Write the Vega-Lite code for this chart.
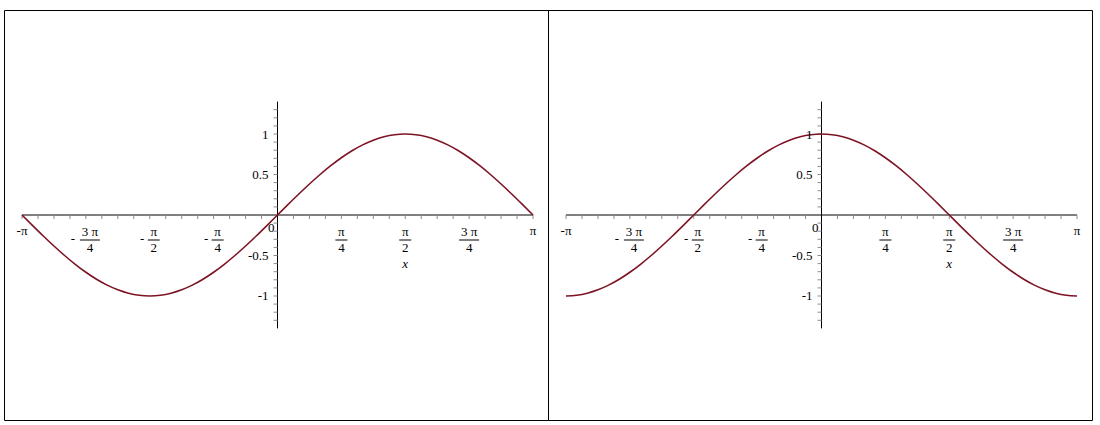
{
  "$schema": "https://vega.github.io/schema/vega-lite/v6.json",
  "padding": {"left": 3, "top": 9, "right": 0, "bottom": 0},
  "background": "white",
  "datasets": {
    "curve": [
      {"x": -3.1416, "s": 0, "c": -1},
      {"x": -3.0107, "s": -0.1305, "c": -0.9914},
      {"x": -2.8798, "s": -0.2588, "c": -0.9659},
      {"x": -2.7489, "s": -0.3827, "c": -0.9239},
      {"x": -2.618, "s": -0.5, "c": -0.866},
      {"x": -2.4871, "s": -0.6088, "c": -0.7934},
      {"x": -2.3562, "s": -0.7071, "c": -0.7071},
      {"x": -2.2253, "s": -0.7934, "c": -0.6088},
      {"x": -2.0944, "s": -0.866, "c": -0.5},
      {"x": -1.9635, "s": -0.9239, "c": -0.3827},
      {"x": -1.8326, "s": -0.9659, "c": -0.2588},
      {"x": -1.7017, "s": -0.9914, "c": -0.1305},
      {"x": -1.5708, "s": -1, "c": 0},
      {"x": -1.4399, "s": -0.9914, "c": 0.1305},
      {"x": -1.309, "s": -0.9659, "c": 0.2588},
      {"x": -1.1781, "s": -0.9239, "c": 0.3827},
      {"x": -1.0472, "s": -0.866, "c": 0.5},
      {"x": -0.9163, "s": -0.7934, "c": 0.6088},
      {"x": -0.7854, "s": -0.7071, "c": 0.7071},
      {"x": -0.6545, "s": -0.6088, "c": 0.7934},
      {"x": -0.5236, "s": -0.5, "c": 0.866},
      {"x": -0.3927, "s": -0.3827, "c": 0.9239},
      {"x": -0.2618, "s": -0.2588, "c": 0.9659},
      {"x": -0.1309, "s": -0.1305, "c": 0.9914},
      {"x": 0, "s": 0, "c": 1},
      {"x": 0.1309, "s": 0.1305, "c": 0.9914},
      {"x": 0.2618, "s": 0.2588, "c": 0.9659},
      {"x": 0.3927, "s": 0.3827, "c": 0.9239},
      {"x": 0.5236, "s": 0.5, "c": 0.866},
      {"x": 0.6545, "s": 0.6088, "c": 0.7934},
      {"x": 0.7854, "s": 0.7071, "c": 0.7071},
      {"x": 0.9163, "s": 0.7934, "c": 0.6088},
      {"x": 1.0472, "s": 0.866, "c": 0.5},
      {"x": 1.1781, "s": 0.9239, "c": 0.3827},
      {"x": 1.309, "s": 0.9659, "c": 0.2588},
      {"x": 1.4399, "s": 0.9914, "c": 0.1305},
      {"x": 1.5708, "s": 1, "c": 0},
      {"x": 1.7017, "s": 0.9914, "c": -0.1305},
      {"x": 1.8326, "s": 0.9659, "c": -0.2588},
      {"x": 1.9635, "s": 0.9239, "c": -0.3827},
      {"x": 2.0944, "s": 0.866, "c": -0.5},
      {"x": 2.2253, "s": 0.7934, "c": -0.6088},
      {"x": 2.3562, "s": 0.7071, "c": -0.7071},
      {"x": 2.4871, "s": 0.6088, "c": -0.7934},
      {"x": 2.618, "s": 0.5, "c": -0.866},
      {"x": 2.7489, "s": 0.3827, "c": -0.9239},
      {"x": 2.8798, "s": 0.2588, "c": -0.9659},
      {"x": 3.0107, "s": 0.1305, "c": -0.9914},
      {"x": 3.1416, "s": 0, "c": -1}
    ],
    "axes": [{"a": -3.1416, "b": 3.1416, "lo": -1.4, "hi": 1.4}],
    "xt": [
      {"v": -3.1416}, {"v": -2.9452}, {"v": -2.7489}, {"v": -2.5525}, {"v": -2.3562},
      {"v": -2.1598}, {"v": -1.9635}, {"v": -1.7671}, {"v": -1.5708}, {"v": -1.3744},
      {"v": -1.1781}, {"v": -0.9817}, {"v": -0.7854}, {"v": -0.589}, {"v": -0.3927},
      {"v": -0.1963}, {"v": 0.1963}, {"v": 0.3927}, {"v": 0.589}, {"v": 0.7854},
      {"v": 0.9817}, {"v": 1.1781}, {"v": 1.3744}, {"v": 1.5708}, {"v": 1.7671},
      {"v": 1.9635}, {"v": 2.1598}, {"v": 2.3562}, {"v": 2.5525}, {"v": 2.7489},
      {"v": 2.9452}, {"v": 3.1416}
    ],
    "yt": [
      {"v": -1.3}, {"v": -1.2}, {"v": -1.1}, {"v": -1.0}, {"v": -0.9}, {"v": -0.8},
      {"v": -0.7}, {"v": -0.6}, {"v": -0.5}, {"v": -0.4}, {"v": -0.3}, {"v": -0.2},
      {"v": -0.1}, {"v": 0.1}, {"v": 0.2}, {"v": 0.3}, {"v": 0.4}, {"v": 0.5},
      {"v": 0.6}, {"v": 0.7}, {"v": 0.8}, {"v": 0.9}, {"v": 1.0}, {"v": 1.1},
      {"v": 1.2}, {"v": 1.3}
    ],
    "yl": [
      {"v": 1, "t": "1"}, {"v": 0.5, "t": "0.5"}, {"v": -0.5, "t": "-0.5"}, {"v": -1, "t": "-1"}
    ],
    "zl": [{"t": "0"}],
    "xl": [{"v": -3.1416, "t": "-π"}, {"v": 3.1416, "t": "π"}],
    "fr": [
      {"x": -2.3562, "num": "3 π", "den": "4", "g": "nw"},
      {"x": -1.5708, "num": "π", "den": "2", "g": "nn"},
      {"x": -0.7854, "num": "π", "den": "4", "g": "nn"},
      {"x": 0.7854, "num": "π", "den": "4", "g": "pn"},
      {"x": 1.5708, "num": "π", "den": "2", "g": "pn"},
      {"x": 2.3562, "num": "3 π", "den": "4", "g": "pw"}
    ],
    "tl": [{"v": 1.5708, "t": "x"}]
  },
  "repeat": {"column": ["s", "c"]},
  "spacing": 0,
  "bounds": "flush",
  "spec": {
    "width": 544,
    "height": 410,
    "layer": [
      {
        "data": {"name": "axes"},
        "mark": {"type": "rule", "color": "black", "strokeWidth": 1},
        "encoding": {
          "x": {"field": "a", "type": "quantitative", "scale": {"domain": [-3.363, 3.326], "nice": false, "zero": false}, "axis": null},
          "x2": {"field": "b"},
          "y": {"datum": 0, "type": "quantitative", "scale": {"domain": [-2.531, 2.531], "nice": false, "zero": false}, "axis": null}
        }
      },
      {
        "data": {"name": "axes"},
        "mark": {"type": "rule", "color": "black", "strokeWidth": 1},
        "encoding": {
          "x": {"datum": 0, "type": "quantitative", "scale": {"domain": [-3.363, 3.326], "nice": false, "zero": false}, "axis": null},
          "y": {"field": "lo", "type": "quantitative", "scale": {"domain": [-2.531, 2.531], "nice": false, "zero": false}, "axis": null},
          "y2": {"field": "hi"}
        }
      },
      {
        "data": {"name": "xt"},
        "mark": {"type": "tick", "orient": "vertical", "size": 4, "thickness": 1, "yOffset": 2, "color": "#8c8c8c", "opacity": 1},
        "encoding": {
          "x": {"field": "v", "type": "quantitative", "scale": {"domain": [-3.363, 3.326], "nice": false, "zero": false}, "axis": null},
          "y": {"datum": 0, "type": "quantitative", "scale": {"domain": [-2.531, 2.531], "nice": false, "zero": false}, "axis": null}
        }
      },
      {
        "data": {"name": "yt"},
        "mark": {"type": "tick", "orient": "horizontal", "size": 4, "thickness": 1, "xOffset": -2, "color": "#8c8c8c", "opacity": 1},
        "encoding": {
          "x": {"datum": 0, "type": "quantitative", "scale": {"domain": [-3.363, 3.326], "nice": false, "zero": false}, "axis": null},
          "y": {"field": "v", "type": "quantitative", "scale": {"domain": [-2.531, 2.531], "nice": false, "zero": false}, "axis": null}
        }
      },
      {
        "data": {"name": "curve"},
        "mark": {"type": "line", "color": "#7d1425", "strokeWidth": 1.6, "interpolate": "monotone"},
        "encoding": {
          "x": {"field": "x", "type": "quantitative", "scale": {"domain": [-3.363, 3.326], "nice": false, "zero": false}, "axis": null},
          "y": {"field": {"repeat": "column"}, "type": "quantitative", "scale": {"domain": [-2.531, 2.531], "nice": false, "zero": false}, "axis": null}
        }
      },
      {
        "data": {"name": "yl"},
        "mark": {"type": "text", "align": "right", "baseline": "alphabetic", "dx": -9, "dy": 4.5, "color": "black", "font": "Liberation Serif", "fontSize": 13},
        "encoding": {
          "x": {"datum": 0, "type": "quantitative", "scale": {"domain": [-3.363, 3.326], "nice": false, "zero": false}, "axis": null},
          "y": {"field": "v", "type": "quantitative", "scale": {"domain": [-2.531, 2.531], "nice": false, "zero": false}, "axis": null},
          "text": {"field": "t"}
        }
      },
      {
        "data": {"name": "zl"},
        "mark": {"type": "text", "align": "right", "baseline": "alphabetic", "dx": -3, "dy": 17, "color": "black", "font": "Liberation Serif", "fontSize": 13},
        "encoding": {
          "x": {"datum": 0, "type": "quantitative", "scale": {"domain": [-3.363, 3.326], "nice": false, "zero": false}, "axis": null},
          "y": {"datum": 0, "type": "quantitative", "scale": {"domain": [-2.531, 2.531], "nice": false, "zero": false}, "axis": null},
          "text": {"field": "t"}
        }
      },
      {
        "data": {"name": "xl"},
        "mark": {"type": "text", "align": "center", "baseline": "alphabetic", "dy": 20, "color": "black", "font": "Liberation Serif", "fontSize": 13},
        "encoding": {
          "x": {"field": "v", "type": "quantitative", "scale": {"domain": [-3.363, 3.326], "nice": false, "zero": false}, "axis": null},
          "y": {"datum": 0, "type": "quantitative", "scale": {"domain": [-2.531, 2.531], "nice": false, "zero": false}, "axis": null},
          "text": {"field": "t"}
        }
      },
      {
        "data": {"name": "fr"},
        "transform": [{"filter": "datum.x < 0"}],
        "mark": {"type": "text", "align": "center", "baseline": "alphabetic", "dx": 4, "dy": 21, "color": "black", "font": "Liberation Serif", "fontSize": 13},
        "encoding": {
          "x": {"field": "x", "type": "quantitative", "scale": {"domain": [-3.363, 3.326], "nice": false, "zero": false}, "axis": null},
          "y": {"datum": 0, "type": "quantitative", "scale": {"domain": [-2.531, 2.531], "nice": false, "zero": false}, "axis": null},
          "text": {"field": "num"}
        }
      },
      {
        "data": {"name": "fr"},
        "transform": [{"filter": "datum.x > 0"}],
        "mark": {"type": "text", "align": "center", "baseline": "alphabetic", "dx": 0, "dy": 21, "color": "black", "font": "Liberation Serif", "fontSize": 13},
        "encoding": {
          "x": {"field": "x", "type": "quantitative", "scale": {"domain": [-3.363, 3.326], "nice": false, "zero": false}, "axis": null},
          "y": {"datum": 0, "type": "quantitative", "scale": {"domain": [-2.531, 2.531], "nice": false, "zero": false}, "axis": null},
          "text": {"field": "num"}
        }
      },
      {
        "data": {"name": "fr"},
        "transform": [{"filter": "datum.x < 0"}],
        "mark": {"type": "text", "align": "center", "baseline": "alphabetic", "dx": 4, "dy": 37, "color": "black", "font": "Liberation Serif", "fontSize": 13},
        "encoding": {
          "x": {"field": "x", "type": "quantitative", "scale": {"domain": [-3.363, 3.326], "nice": false, "zero": false}, "axis": null},
          "y": {"datum": 0, "type": "quantitative", "scale": {"domain": [-2.531, 2.531], "nice": false, "zero": false}, "axis": null},
          "text": {"field": "den"}
        }
      },
      {
        "data": {"name": "fr"},
        "transform": [{"filter": "datum.x > 0"}],
        "mark": {"type": "text", "align": "center", "baseline": "alphabetic", "dx": 0, "dy": 37, "color": "black", "font": "Liberation Serif", "fontSize": 13},
        "encoding": {
          "x": {"field": "x", "type": "quantitative", "scale": {"domain": [-3.363, 3.326], "nice": false, "zero": false}, "axis": null},
          "y": {"datum": 0, "type": "quantitative", "scale": {"domain": [-2.531, 2.531], "nice": false, "zero": false}, "axis": null},
          "text": {"field": "den"}
        }
      },
      {
        "data": {"name": "fr"},
        "transform": [{"filter": "datum.g == 'nw'"}],
        "mark": {"type": "rule", "color": "black", "strokeWidth": 1, "xOffset": -6, "x2Offset": 14, "yOffset": 25},
        "encoding": {
          "x": {"field": "x", "type": "quantitative", "scale": {"domain": [-3.363, 3.326], "nice": false, "zero": false}, "axis": null},
          "x2": {"field": "x"},
          "y": {"datum": 0, "type": "quantitative", "scale": {"domain": [-2.531, 2.531], "nice": false, "zero": false}, "axis": null}
        }
      },
      {
        "data": {"name": "fr"},
        "transform": [{"filter": "datum.g == 'nn'"}],
        "mark": {"type": "rule", "color": "black", "strokeWidth": 1, "xOffset": -2, "x2Offset": 10, "yOffset": 25},
        "encoding": {
          "x": {"field": "x", "type": "quantitative", "scale": {"domain": [-3.363, 3.326], "nice": false, "zero": false}, "axis": null},
          "x2": {"field": "x"},
          "y": {"datum": 0, "type": "quantitative", "scale": {"domain": [-2.531, 2.531], "nice": false, "zero": false}, "axis": null}
        }
      },
      {
        "data": {"name": "fr"},
        "transform": [{"filter": "datum.g == 'pn'"}],
        "mark": {"type": "rule", "color": "black", "strokeWidth": 1, "xOffset": -6, "x2Offset": 6, "yOffset": 25},
        "encoding": {
          "x": {"field": "x", "type": "quantitative", "scale": {"domain": [-3.363, 3.326], "nice": false, "zero": false}, "axis": null},
          "x2": {"field": "x"},
          "y": {"datum": 0, "type": "quantitative", "scale": {"domain": [-2.531, 2.531], "nice": false, "zero": false}, "axis": null}
        }
      },
      {
        "data": {"name": "fr"},
        "transform": [{"filter": "datum.g == 'pw'"}],
        "mark": {"type": "rule", "color": "black", "strokeWidth": 1, "xOffset": -10, "x2Offset": 10, "yOffset": 25},
        "encoding": {
          "x": {"field": "x", "type": "quantitative", "scale": {"domain": [-3.363, 3.326], "nice": false, "zero": false}, "axis": null},
          "x2": {"field": "x"},
          "y": {"datum": 0, "type": "quantitative", "scale": {"domain": [-2.531, 2.531], "nice": false, "zero": false}, "axis": null}
        }
      },
      {
        "data": {"name": "fr"},
        "transform": [{"filter": "datum.g == 'nw'"}],
        "mark": {"type": "text", "align": "center", "baseline": "alphabetic", "dx": -13, "dy": 28, "color": "black", "text": "-", "font": "Liberation Serif", "fontSize": 13},
        "encoding": {
          "x": {"field": "x", "type": "quantitative", "scale": {"domain": [-3.363, 3.326], "nice": false, "zero": false}, "axis": null},
          "y": {"datum": 0, "type": "quantitative", "scale": {"domain": [-2.531, 2.531], "nice": false, "zero": false}, "axis": null}
        }
      },
      {
        "data": {"name": "fr"},
        "transform": [{"filter": "datum.g == 'nn'"}],
        "mark": {"type": "text", "align": "center", "baseline": "alphabetic", "dx": -7.5, "dy": 28, "color": "black", "text": "-", "font": "Liberation Serif", "fontSize": 13},
        "encoding": {
          "x": {"field": "x", "type": "quantitative", "scale": {"domain": [-3.363, 3.326], "nice": false, "zero": false}, "axis": null},
          "y": {"datum": 0, "type": "quantitative", "scale": {"domain": [-2.531, 2.531], "nice": false, "zero": false}, "axis": null}
        }
      },
      {
        "data": {"name": "tl"},
        "mark": {"type": "text", "align": "center", "baseline": "alphabetic", "dy": 53, "color": "black", "fontStyle": "italic", "font": "Liberation Serif", "fontSize": 13},
        "encoding": {
          "x": {"field": "v", "type": "quantitative", "scale": {"domain": [-3.363, 3.326], "nice": false, "zero": false}, "axis": null},
          "y": {"datum": 0, "type": "quantitative", "scale": {"domain": [-2.531, 2.531], "nice": false, "zero": false}, "axis": null},
          "text": {"field": "t"}
        }
      }
    ]
  },
  "config": {
    "view": {"stroke": "black", "strokeWidth": 1},
    "text": {"font": "Liberation Serif", "fontSize": 13}
  }
}
